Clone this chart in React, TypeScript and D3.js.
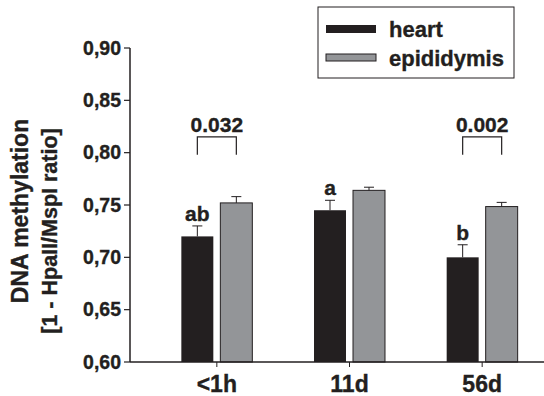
import * as d3 from 'd3';

// categories, series and values
const categories = ['<1h', '11d', '56d'];
const seriesNames = ['heart', 'epididymis'];
const heartMean = [0.720, 0.745, 0.700];
const heartErr = [0.010, 0.0095, 0.012];
const epiMean = [0.752, 0.764, 0.7485];
const epiErr = [0.006, 0.003, 0.004];
const heartLetters = ['ab', 'a', 'b'];
const yTicks = [0.60, 0.65, 0.70, 0.75, 0.80, 0.85, 0.90];
const pCategories = ['<1h', '56d'];
const pLabels = ['0.032', '0.002'];
const bracketTop = 0.815;
const bracketBottom = 0.798;

const colors: Record<string, string> = { heart: '#231f20', epididymis: '#939598' };
const ink = '#231f20';
const font = '"Liberation Sans", Arial, sans-serif';

// bold text, slightly thickened to look like the heavier original face
const txt = { fontWeight: 'bold', fill: ink, stroke: ink, strokeWidth: 0.35 } as const;

export default function App() {
  const width = 544;
  const height = 396;
  const axisX = 130;
  const axisRight = 544;

  const y = d3.scaleLinear().domain([0.6, 0.9]).range([362, 48]);
  const x = d3.scaleBand<string>().domain(categories).range([150.5, 548.5]);
  const inner = d3.scaleBand<string>().domain(seriesNames).range([-39, 39]).paddingInner(0.18).paddingOuter(0.09);

  const fmt = d3.formatLocale({ decimal: ',', thousands: '.', grouping: [3], currency: ['', ''] }).format('.2f');
  const cx = (c: string) => (x(c) ?? 0) + x.bandwidth() / 2;

  const rows = categories.flatMap((c, i) => [
    { cat: c, s: 'heart', mean: heartMean[i], err: heartErr[i] },
    { cat: c, s: 'epididymis', mean: epiMean[i], err: epiErr[i] },
  ]);

  const barX = (c: string, s: string) => cx(c) + (inner(s) ?? 0);
  const bw = inner.bandwidth();

  return (
    <svg width={width} height={height} style={{ position: 'absolute', left: 0, top: 0 }} fontFamily={font}>
      <rect width={width} height={height} fill='white' />

      {/* bars */}
      {rows.map(d => (
        <rect
          key={d.cat + d.s}
          x={barX(d.cat, d.s)}
          y={y(d.mean)}
          width={bw}
          height={y(0.6) - y(d.mean)}
          fill={colors[d.s]}
          stroke={d.s === 'heart' ? 'none' : ink}
          strokeWidth={1}
        />
      ))}

      {/* error bars */}
      {rows.map(d => {
        const mx = barX(d.cat, d.s) + bw / 2;
        return (
          <g key={'e' + d.cat + d.s} stroke={ink} strokeWidth={1}>
            <line x1={mx} x2={mx} y1={y(d.mean)} y2={y(d.mean + d.err)} />
            <line x1={mx - 5} x2={mx + 5} y1={y(d.mean + d.err)} y2={y(d.mean + d.err)} />
          </g>
        );
      })}

      {/* significance letters over heart bars */}
      {categories.map((c, i) => (
        <text
          key={'l' + c}
          x={barX(c, 'heart') + bw / 2}
          y={y(heartMean[i] + heartErr[i]) - 5}
          textAnchor='middle'
          fontSize={21}
          {...txt}
        >
          {heartLetters[i]}
        </text>
      ))}

      {/* p-value brackets */}
      {pCategories.map((c, i) => {
        const x1 = barX(c, 'heart') + bw / 2;
        const x2 = barX(c, 'epididymis') + bw / 2;
        return (
          <g key={'p' + c}>
            <path
              d={`M${x1},${y(bracketBottom)}V${y(bracketTop)}H${x2}V${y(bracketBottom)}`}
              fill='none'
              stroke={ink}
              strokeWidth={1.2}
            />
            <text x={(x1 + x2) / 2} y={y(bracketTop) - 5} textAnchor='middle' fontSize={21} {...txt}>
              {pLabels[i]}
            </text>
          </g>
        );
      })}

      {/* y axis */}
      <line x1={axisX} x2={axisX} y1={y(0.9)} y2={y(0.6)} stroke={ink} strokeWidth={1.5} />
      {yTicks.map(t => (
        <g key={t} transform={`translate(0,${y(t)})`}>
          <line x1={axisX - 6} x2={axisX} stroke={ink} strokeWidth={1.2} />
          <text x={axisX - 9} dy='0.35em' textAnchor='end' fontSize={19.5} {...txt}>
            {fmt(t)}
          </text>
        </g>
      ))}

      {/* x axis */}
      <line x1={axisX} x2={axisRight} y1={y(0.6)} y2={y(0.6)} stroke={ink} strokeWidth={1.5} />
      {categories.map(c => (
        <g key={'x' + c} transform={`translate(${cx(c)},${y(0.6)})`}>
          <line y1={0} y2={5} stroke={ink} strokeWidth={1} />
          <text y={30} textAnchor='middle' fontSize={23} {...txt}>
            {c}
          </text>
        </g>
      ))}

      {/* y axis title */}
      <text transform={`translate(28,211) rotate(-90)`} textAnchor='middle' fontSize={23} {...txt}>
        DNA methylation
      </text>
      <text transform={`translate(57,231) rotate(-90)`} textAnchor='middle' fontSize={21.5} {...txt}>
        [1 - HpaII/MspI ratio]
      </text>

      {/* legend */}
      <rect x={318} y={7} width={196} height={71} fill='white' stroke={ink} strokeWidth={1} />
      {seriesNames.map((s, i) => (
        <g key={'lg' + s} transform={`translate(326,${29 + i * 29})`}>
          <rect x={0} y={-4} width={50} height={s === 'heart' ? 8 : 7} fill={colors[s]} stroke={s === 'heart' ? 'none' : ink} strokeWidth={1} />
          <text x={63} y={8} fontSize={22} {...txt}>
            {s}
          </text>
        </g>
      ))}
    </svg>
  );
}
